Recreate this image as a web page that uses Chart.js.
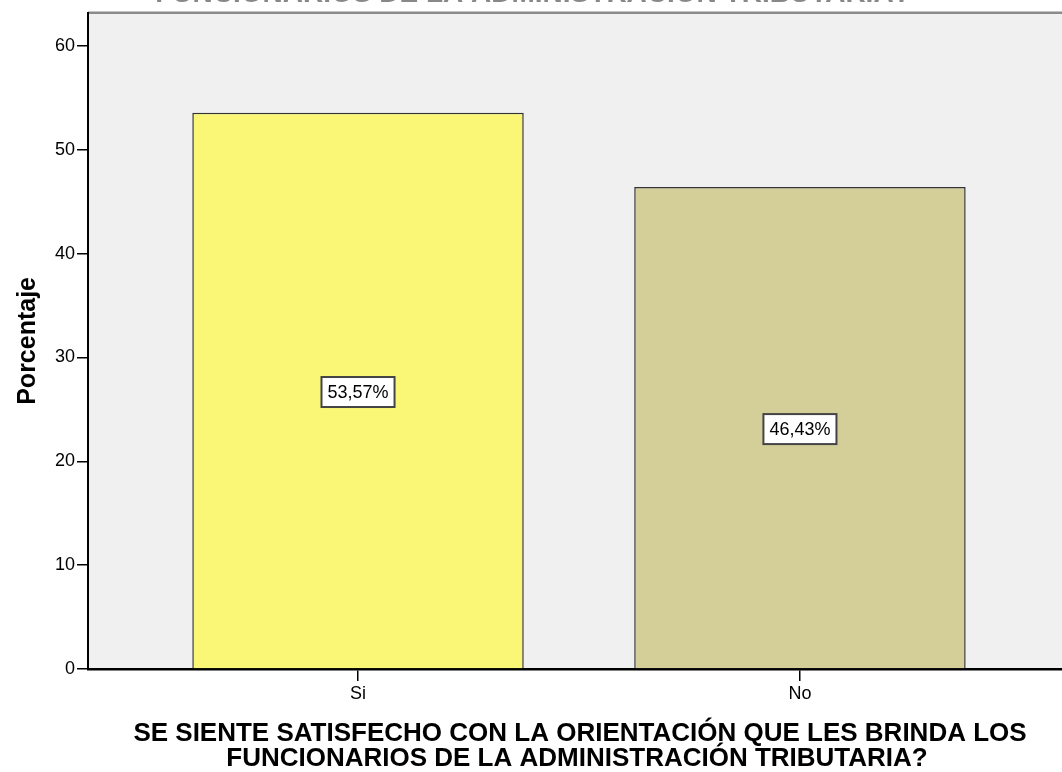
<!DOCTYPE html>
<html>
<head>
<meta charset="utf-8">
<script src="https://cdn.jsdelivr.net/npm/chart.js@4"></script>
<style>
  body { margin: 0; background: #fff; }
  canvas { display: block; }
</style>
</head>
<body>
<canvas id="chart" width="1062" height="772"></canvas>
<script>
// data
const categories = ['Si', 'No'];
const percentages = [53.57, 46.43];
const barColors = ['#FAF776', '#D4CE99'];
const yTicks = [0, 10, 20, 30, 40, 50, 60];

const topTitle = 'FUNCIONARIOS DE LA ADMINISTRACIÓN TRIBUTARIA?';
const xTitle = ['SE SIENTE SATISFECHO CON LA ORIENTACIÓN QUE LES BRINDA LOS',
                'FUNCIONARIOS DE LA ADMINISTRACIÓN TRIBUTARIA?'];

const FONT = 'Arial, "Liberation Sans", sans-serif';

// grey plot background + top frame line + titles
const backdrop = {
  id: 'backdrop',
  beforeDraw(chart) {
    const { ctx, chartArea: a } = chart;
    ctx.save();
    ctx.fillStyle = '#F0F0F0';
    ctx.fillRect(a.left, a.top, a.right - a.left, a.bottom - a.top);
    ctx.strokeStyle = '#8a8a8a';
    ctx.lineWidth = 2.5;
    ctx.beginPath();
    ctx.moveTo(a.left, a.top);
    ctx.lineTo(a.right, a.top);
    ctx.stroke();
    // title of the original is cut off by the top edge
    ctx.fillStyle = '#888';
    ctx.font = 'bold 28px ' + FONT;
    ctx.textAlign = 'center';
    ctx.textBaseline = 'alphabetic';
    ctx.fillText(topTitle, 533, 2);
    ctx.restore();
  },
  afterDraw(chart) {
    const { ctx } = chart;
    ctx.save();
    ctx.fillStyle = '#000';
    ctx.font = 'bold 26px ' + FONT;
    ctx.textAlign = 'center';
    ctx.textBaseline = 'middle';
    ctx.fillText(xTitle[0], 580, 734);
    ctx.fillText(xTitle[1], 577, 759);
    ctx.restore();
  }
};

// boxed percentage labels in the middle of each bar
const boxLabels = {
  id: 'boxLabels',
  afterDatasetsDraw(chart) {
    const { ctx } = chart;
    const meta = chart.getDatasetMeta(0);
    ctx.save();
    ctx.font = '18px ' + FONT;
    ctx.textAlign = 'center';
    ctx.textBaseline = 'middle';
    meta.data.forEach((bar, i) => {
      const txt = percentages[i].toFixed(2).replace('.', ',') + '%';
      const cx = bar.x;
      const cy = (bar.y + bar.base) / 2 + 1.5;
      const w = ctx.measureText(txt).width + 12;
      const h = 30;
      ctx.fillStyle = '#fff';
      ctx.fillRect(cx - w / 2, cy - h / 2, w, h);
      ctx.strokeStyle = '#444';
      ctx.lineWidth = 2;
      ctx.strokeRect(cx - w / 2, cy - h / 2, w, h);
      ctx.fillStyle = '#000';
      ctx.fillText(txt, cx, cy + 1);
    });
    ctx.restore();
  }
};

new Chart(document.getElementById('chart'), {
  type: 'bar',
  data: {
    datasets: [{
      data: percentages.map((v, i) => ({ x: i, y: v })),
      backgroundColor: barColors,
      borderColor: '#333',
      borderWidth: 1.5,
      barPercentage: 0.75,
      categoryPercentage: 1
    }]
  },
  options: {
    responsive: false,
    animation: false,
    layout: { padding: { top: 12, right: 0, left: 0, bottom: 0 } },
    plugins: {
      legend: { display: false },
      tooltip: { enabled: false }
    },
    scales: {
      x: {
        type: 'linear',
        offset: false,
        min: -0.611,
        max: 1.593,
        afterBuildTicks(scale) {
          scale.ticks = categories.map((c, i) => ({ value: i }));
        },
        afterFit(scale) { scale.height = 103; },
        ticks: {
          callback: (v) => categories[v],
          color: '#000',
          font: { family: FONT, size: 18 },
          padding: 2,
          maxRotation: 0
        },
        grid: { offset: false, drawOnChartArea: false, color: '#000', tickLength: 12, lineWidth: 1.5 },
        border: { color: '#000', width: 2.5 }
      },
      y: {
        min: 0,
        max: 63.2,
        afterBuildTicks(scale) {
          scale.ticks = yTicks.map(v => ({ value: v }));
        },
        afterFit(scale) { scale.width = 88; },
        ticks: {
          color: '#000',
          font: { family: FONT, size: 18 },
          padding: 2
        },
        grid: { drawOnChartArea: false, color: '#000', tickLength: 11, lineWidth: 1.5 },
        border: { color: '#000', width: 2 },
        title: {
          display: true,
          text: 'Porcentaje',
          color: '#000',
          font: { family: FONT, size: 25, weight: 'bold' },
          padding: { top: 13, bottom: 0 }
        }
      }
    }
  },
  plugins: [backdrop, boxLabels]
});
</script>
</body>
</html>
